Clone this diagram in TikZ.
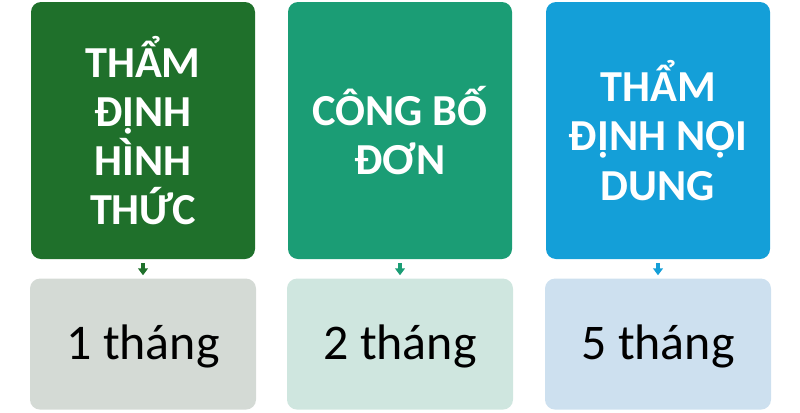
\documentclass[tikz,border=0pt]{standalone}
\usepackage{fontspec}
\setmainfont{Carlito}
\usetikzlibrary{arrows.meta}
\usetikzlibrary{positioning}

\definecolor{stepgreen}{RGB}{31,112,43}
\definecolor{stepteal}{RGB}{27,157,117}
\definecolor{stepblue}{RGB}{20,159,216}
\definecolor{timegreen}{RGB}{212,218,213}
\definecolor{timeteal}{RGB}{207,230,223}
\definecolor{timeblue}{RGB}{205,224,239}

\tikzset{
  stagebox/.style={rectangle,rounded corners=0.25cm,minimum width=5.6cm,minimum height=6.425cm,
    inner sep=0pt,align=center,text=white,font=\fontsize{31.5}{35}\selectfont\bfseries},
  timebox/.style={rectangle,rounded corners=0.25cm,minimum width=5.65cm,minimum height=3.275cm,
    inner sep=0pt,text=black,font=\fontsize{35.5}{40}\selectfont,text height=0.8cm,text depth=0.05cm},
  flowarrow/.style={line width=3.5pt,-{Triangle[width=7pt,length=5pt]},shorten <=0.1cm,shorten >=0.075cm}
}

\begin{document}
\begin{tikzpicture}
\useasboundingbox (0,0) rectangle (20,-10.3);
\node[stagebox,fill=stepgreen] (formal) at (3.575,-3.2625) {THẨM\\ĐỊNH\\HÌNH\\THỨC};
\node[stagebox,fill=stepteal] (publish) at (10.0,-3.2625) {CÔNG BỐ\\ĐƠN};
\node[stagebox,fill=stepblue] (content) at (16.45,-3.2625) {THẨM\\ĐỊNH NỘI\\DUNG};

\node[timebox,fill=timegreen,below=0.475cm of formal] (formaltime) {1 tháng};
\node[timebox,fill=timeteal,below=0.475cm of publish] (publishtime) {2 tháng};
\node[timebox,fill=timeblue,below=0.475cm of content] (contenttime) {5 tháng};

\draw[flowarrow,draw=stepgreen,fill=stepgreen] (formal) -- (formaltime);
\draw[flowarrow,draw=stepteal,fill=stepteal] (publish) -- (publishtime);
\draw[flowarrow,draw=stepblue,fill=stepblue] (content) -- (contenttime);

\end{tikzpicture}
\end{document}
